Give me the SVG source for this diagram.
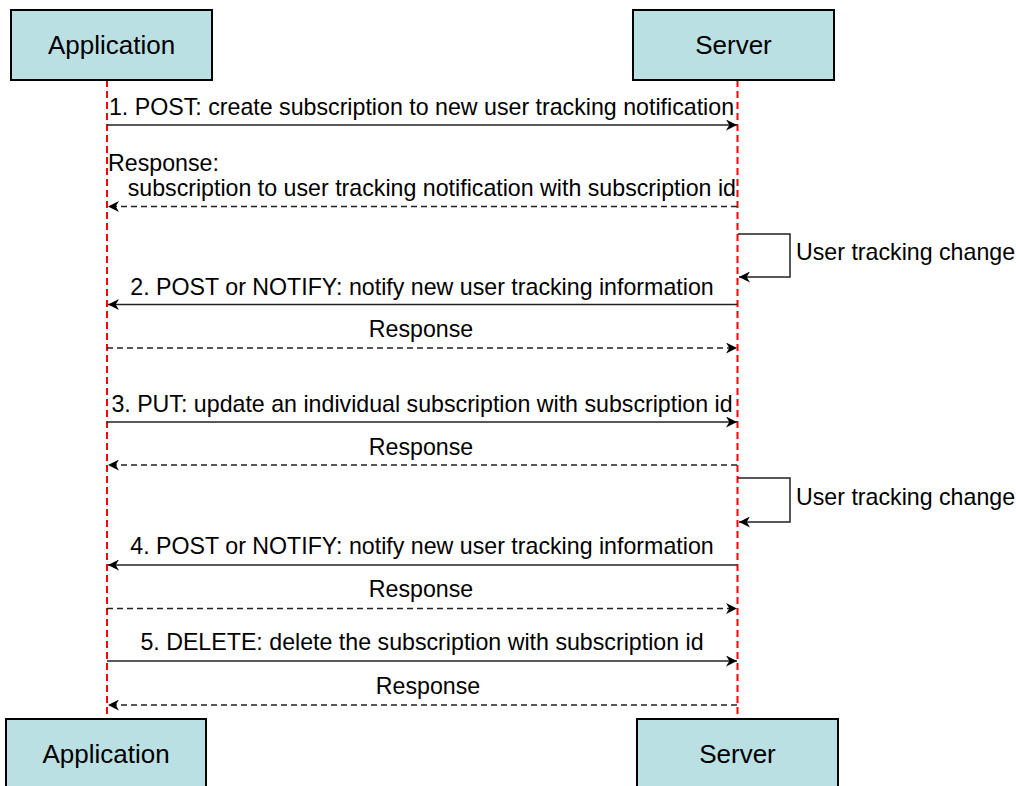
<svg xmlns="http://www.w3.org/2000/svg" width="1016" height="786" viewBox="0 0 1016 786">
<style>
.box{fill:#bae0e4;stroke:#000;stroke-width:2}
.bt{font-family:"Liberation Sans",Arial,sans-serif;font-size:26px;fill:#000;text-anchor:middle}
.mt{font-family:"Liberation Sans",Arial,sans-serif;font-size:23.2px;fill:#000}
.c{text-anchor:middle}
.life{stroke:#ff0000;stroke-width:2;stroke-dasharray:7 4;fill:none}
.sol{stroke:#222;stroke-width:1.5;fill:none}
.dash{stroke:#222;stroke-width:1.5;fill:none;stroke-dasharray:6 4}
</style>
<defs>
<marker id="ar" viewBox="0 0 10 10" refX="10" refY="5" markerWidth="11" markerHeight="11" markerUnits="userSpaceOnUse" orient="auto">
<path d="M0,0 L10,5 L0,10 L3,5 z" fill="#000"/>
</marker>
</defs>
<g id="lifelines">
<line class="life" x1="107" y1="80" x2="107" y2="719"/>
<line class="life" x1="737.5" y1="80" x2="737.5" y2="719"/>
</g>
<g id="app-top"><rect class="box" x="11" y="10" width="201" height="70"/><text class="bt" x="111.5" y="54">Application</text></g>
<g id="server-top"><rect class="box" x="633" y="10" width="201" height="70"/><text class="bt" x="733.5" y="54">Server</text></g>
<g id="app-bottom"><rect class="box" x="6" y="719" width="200" height="70"/><text class="bt" x="106" y="763">Application</text></g>
<g id="server-bottom"><rect class="box" x="637" y="719" width="201" height="70"/><text class="bt" x="737.5" y="763">Server</text></g>
<g id="connectors">
<line class="sol" x1="107" y1="125" x2="737" y2="125" marker-end="url(#ar)"/>
<line class="dash" x1="737" y1="206.5" x2="108" y2="206.5" marker-end="url(#ar)"/>
<polyline class="sol" points="738,234 790,234 790,277 739,277" marker-end="url(#ar)"/>
<line class="sol" x1="737" y1="304.5" x2="108" y2="304.5" marker-end="url(#ar)"/>
<line class="dash" x1="107" y1="348" x2="737" y2="348" marker-end="url(#ar)"/>
<line class="sol" x1="107" y1="422" x2="737" y2="422" marker-end="url(#ar)"/>
<line class="dash" x1="737" y1="465" x2="108" y2="465" marker-end="url(#ar)"/>
<polyline class="sol" points="738,478 790,478 790,522 739,522" marker-end="url(#ar)"/>
<line class="sol" x1="737" y1="565" x2="108" y2="565" marker-end="url(#ar)"/>
<line class="dash" x1="107" y1="608.5" x2="737" y2="608.5" marker-end="url(#ar)"/>
<line class="sol" x1="107" y1="661" x2="737" y2="661" marker-end="url(#ar)"/>
<line class="dash" x1="737" y1="705" x2="108" y2="705" marker-end="url(#ar)"/>
</g>
<g id="labels">
<text class="mt c" x="421.5" y="115">1. POST: create subscription to new user tracking notification</text>
<text class="mt" x="108" y="171">Response:</text>
<text class="mt" x="736" y="196" text-anchor="end">subscription to user tracking notification with subscription id</text>
<text class="mt" x="796" y="260">User tracking change</text>
<text class="mt c" x="422" y="295">2. POST or NOTIFY: notify new user tracking information</text>
<text class="mt c" x="421" y="337">Response</text>
<text class="mt c" x="422" y="412">3. PUT: update an individual subscription with subscription id</text>
<text class="mt c" x="421" y="455">Response</text>
<text class="mt" x="796" y="505">User tracking change</text>
<text class="mt c" x="422" y="554">4. POST or NOTIFY: notify new user tracking information</text>
<text class="mt c" x="421" y="597">Response</text>
<text class="mt c" x="422" y="650">5. DELETE: delete the subscription with subscription id</text>
<text class="mt c" x="428" y="694">Response</text>
</g>
</svg>
